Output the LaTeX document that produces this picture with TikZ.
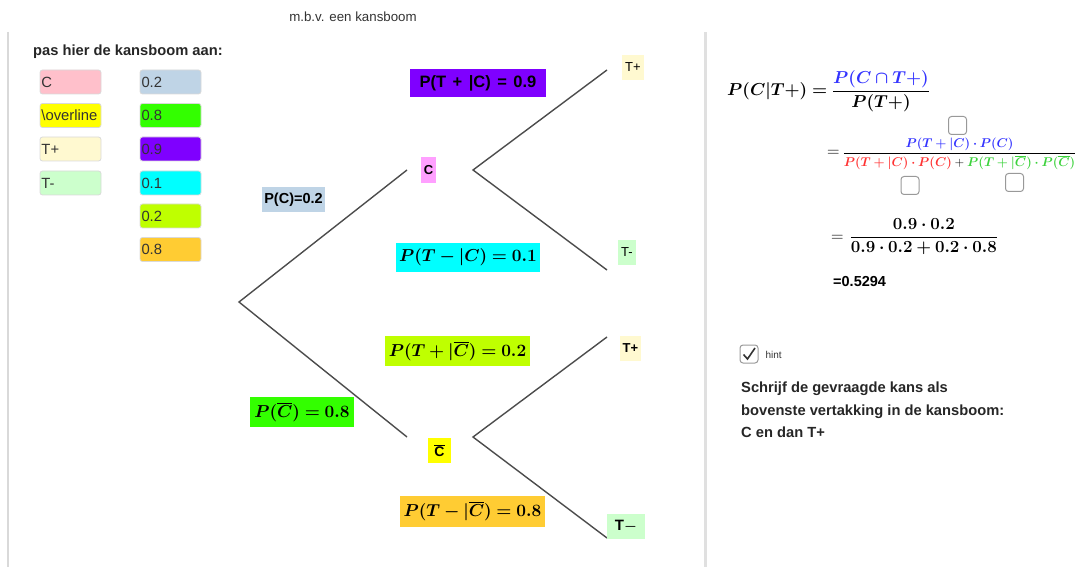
\documentclass[tikz,border=0pt]{standalone}
\usepackage{graphicx}
\usepackage{amsmath,bm}
\usepackage[no-math]{fontspec}
\setmainfont{Liberation Sans}
\definecolor{cpink}{RGB}{255,192,203}
\definecolor{cyel}{RGB}{255,255,0}
\definecolor{clyel}{RGB}{255,249,208}
\definecolor{clgreen}{RGB}{204,255,204}
\definecolor{csteel}{RGB}{191,212,230}
\definecolor{cgreen}{RGB}{51,255,0}
\definecolor{cpurple}{RGB}{127,0,255}
\definecolor{ccyan}{RGB}{0,255,255}
\definecolor{clime}{RGB}{191,255,0}
\definecolor{corange}{RGB}{255,204,51}
\definecolor{cmag}{RGB}{255,160,255}
\definecolor{mblue}{RGB}{51,51,255}
\definecolor{mred}{RGB}{255,51,51}
\definecolor{mgreen}{RGB}{60,210,60}
\definecolor{txt}{RGB}{51,51,51}
\begin{document}
\begin{tikzpicture}[x=1pt,y=-1pt,
  pal/.style={draw=black!15, line width=0.8pt, rounded corners=2.5pt, minimum height=24pt,
    inner xsep=1.5pt, inner ysep=2pt, text width=58pt, align=left, text=txt, font=\fontsize{14.8}{16}\selectfont},
  lbl/.style={inner sep=0pt, text=black},
  mlbl/.style={lbl, font=\fontsize{17.28}{20}\selectfont},
  branch/.style={draw=black!70, line width=1.4pt},
  chk/.style={draw=black!40, line width=1pt, rounded corners=3pt, minimum size=18pt, inner sep=0pt},
  frame/.style={draw=black!15, line width=1.5pt}]
\useasboundingbox (0,0) rectangle (1080,567);
% frame
\coordinate (fl1) at (8,32); \coordinate (fl2) at (8,567);
\coordinate (fs1) at (705,32); \coordinate (fs2) at (705,567);
\draw[frame] (fl1) -- (fl2);
\draw[frame, line width=3pt, draw=black!12] (fs1) -- (fs2);
\node[text=txt, font=\fontsize{13.3}{15}\selectfont] (title) at (353,17) {m.b.v. een kansboom};
% palette
\node[anchor=west, inner sep=0pt, font=\bfseries\fontsize{14.7}{16}\selectfont, text=black!85] (pas) at (33,52) {pas hier de kansboom aan:};
\node[pal, fill=cpink] (pC) at (70.5,82) {C};
\node[pal, fill=cyel] (pO) at (70.5,115.5) {\textbackslash overline};
\node[pal, fill=clyel] (pTp) at (70.5,149) {T+};
\node[pal, fill=clgreen] (pTm) at (70.5,183) {T-};
\node[pal, fill=csteel] (p1) at (170.5,82) {0.2};
\node[pal, fill=cgreen] (p2) at (170.5,115.5) {0.8};
\node[pal, fill=cpurple] (p3) at (170.5,149) {0.9};
\node[pal, fill=ccyan] (p4) at (170.5,183) {0.1};
\node[pal, fill=clime] (p5) at (170.5,216) {0.2};
\node[pal, fill=corange] (p6) at (170.5,249.5) {0.8};
% tree coordinates
\coordinate (root) at (239,302);
\coordinate (cIn) at (407,170);
\coordinate (cOut) at (473,170);
\coordinate (tp1) at (607,70);
\coordinate (tm1) at (607,270);
\coordinate (cbIn) at (407,437);
\coordinate (cbOut) at (473,437);
\coordinate (tp2) at (607,337);
\coordinate (tm2) at (607,538);
\draw[branch] (cIn) -- (root) -- (cbIn);
\draw[branch] (tp1) -- (cOut) -- (tm1);
\draw[branch] (tp2) -- (cbOut) -- (tm2);
% tree nodes
\node[lbl, fill=cmag, minimum width=15pt, minimum height=26pt, font=\bfseries\fontsize{13}{15}\selectfont] (C) at (428.5,170) {C};
\node[lbl, fill=cyel, minimum width=23pt, minimum height=25pt, font=\bfseries\fontsize{14}{16}\selectfont] (Cb) at (439.5,450.5) {$\overline{\mbox{C}}$};
\node[lbl, fill=clyel, minimum width=22pt, minimum height=25pt, font=\fontsize{13}{15}\selectfont] (Tp1) at (633,67.5) {T+};
\node[lbl, fill=clgreen, minimum width=18pt, minimum height=25pt, font=\fontsize{13}{15}\selectfont] (Tm1) at (627,252.5) {T-};
\node[lbl, fill=clyel, minimum width=21pt, minimum height=25pt, font=\bfseries\fontsize{13}{15}\selectfont] (Tp2) at (630.5,348.5) {T+};
\node[lbl, fill=clgreen, minimum width=38pt, minimum height=25pt, font=\bfseries\fontsize{15}{17}\selectfont] (Tm2) at (626,526.5) {T$\boldsymbol{-}$};
% branch labels
\node[lbl, fill=csteel, minimum width=63pt, minimum height=25pt, font=\bfseries\fontsize{14.5}{16}\selectfont] (lPC) at (293.5,199.5) {P(C)=0.2};
\node[lbl, fill=cpurple, minimum width=136pt, minimum height=28pt, font=\bfseries\fontsize{16.5}{18}\selectfont] (lTpC) at (478,83) {P(T\hspace{6.5pt}+\hspace{6.5pt}|C)\hspace{6.5pt}=\hspace{6.5pt}0.9};
\node[mlbl, fill=ccyan, minimum width=144pt, minimum height=29pt] (lTmC) at (468,257.5) {$\boldsymbol{P(T-|C)=0.1}$};
\node[mlbl, fill=clime, minimum width=145pt, minimum height=30pt] (lTpCb) at (457.5,351) {$\boldsymbol{P(T+|\overline{C})=0.2}$};
\node[mlbl, fill=cgreen, minimum width=104pt, minimum height=30pt] (lPCb) at (302,412) {$\boldsymbol{P(\overline{C})=0.8}$};
\node[mlbl, fill=corange, minimum width=145pt, minimum height=31pt] (lTmCb) at (472.5,511.5) {$\boldsymbol{P(T-|\overline{C})=0.8}$};
% right panel formulas
\node[lbl, anchor=west, font=\fontsize{17.28}{20}\selectfont] (f1) at (727,91)
  {$\boldsymbol{P(C|T+) =} \dfrac{\color{mblue}\boldsymbol{P(C\cap T+)}}{\boldsymbol{P(T+)}}$};
\node[lbl, anchor=west] (f2) at (827,154)
  {{\fontsize{17.28}{20}\selectfont$=$}\hspace{3pt}\scalebox{1.06}{\fontsize{12}{14}\selectfont$\dfrac{\color{mblue}\boldsymbol{P(T+|C)\cdot P(C)}}{{\color{mred}\boldsymbol{P(T+|C)\cdot P(C)}}+{\color{mgreen}\boldsymbol{P(T+|\overline{C})\cdot P(\overline{C})}}}$}};
\node[lbl, anchor=west] (f3) at (831,237)
  {{\fontsize{17.28}{20}\selectfont$=$}\hspace{6pt}\scalebox{0.98}{\fontsize{17.28}{20}\selectfont$\dfrac{\boldsymbol{0.9\cdot 0.2}}{\boldsymbol{0.9\cdot 0.2+0.2\cdot 0.8}}$}};
\node[lbl, anchor=west, font=\bfseries\fontsize{14.5}{16}\selectfont] (res) at (833,282) {=0.5294};
\node[chk] (ck1) at (957.5,125.5) {};
\node[chk] (ck2) at (910,185.5) {};
\node[chk] (ck3) at (1014.5,182.5) {};
% hint
\node[chk] (hk) at (749,354) {};
\coordinate (h1) at (743.5,354.5); \coordinate (h2) at (747.5,359); \coordinate (h3) at (755,348);
\draw[black!80, line width=1.6pt] (h1) -- (h2) -- (h3);
\node[anchor=west, text=txt, font=\fontsize{10}{12}\selectfont] (hint) at (762,355) {hint};
\node[anchor=north west, align=left, inner sep=0pt, text=black!85, font=\bfseries\fontsize{14.7}{22.2}\selectfont] (instr) at (741,382)
  {Schrijf de gevraagde kans als\\bovenste vertakking in de kansboom:\\C en dan T+};
\end{tikzpicture}
\end{document}
